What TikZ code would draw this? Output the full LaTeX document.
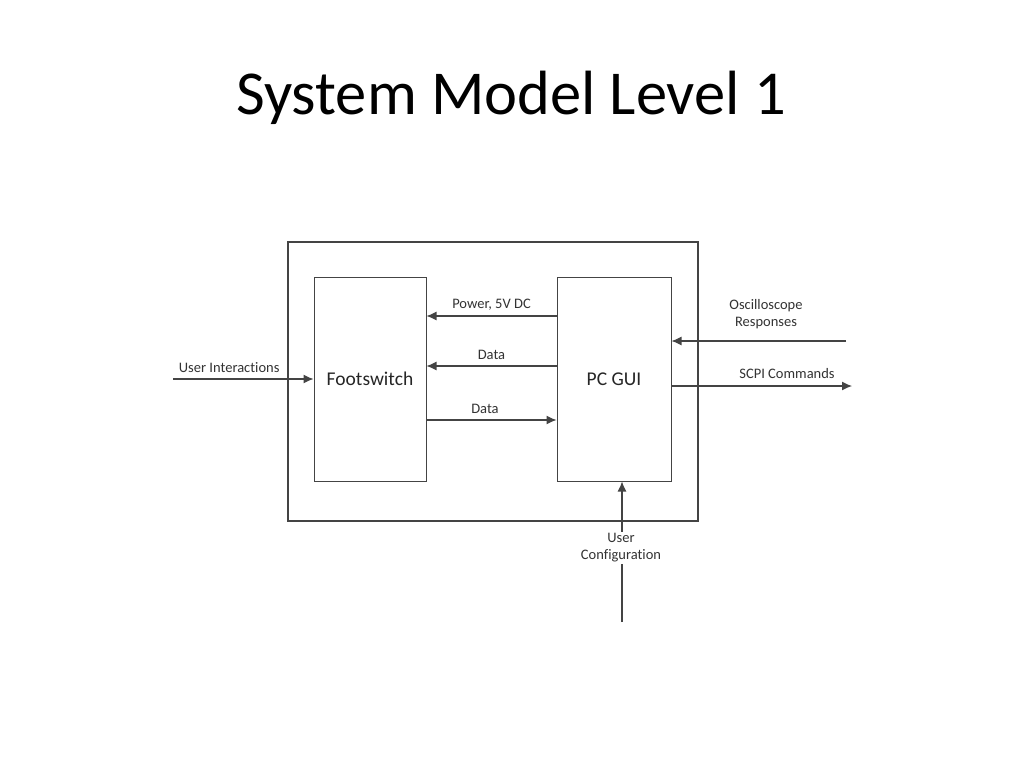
\documentclass[tikz,border=0pt]{standalone}
\usepackage{fontspec}
\setmainfont[RawFeature=-liga]{Carlito}
\usetikzlibrary{arrows.meta}
\definecolor{ln}{HTML}{444444}
\definecolor{tx}{HTML}{333333}
\begin{document}
\begin{tikzpicture}[x=1pt,y=-1pt,
  blk/.style={draw=ln,line width=1pt,minimum width=112pt,minimum height=204pt,inner sep=0pt,font=\fontsize{19.5}{22}\selectfont,text=black!85},
  lbl/.style={font=\fontsize{14.5}{17}\selectfont,text=tx,inner sep=1pt,align=center},
  arr/.style={draw=ln,line width=1.2pt,-{Latex[length=10pt,width=9pt]}}]
\useasboundingbox[fill=white] (0,0) rectangle (1024,768);
\node[font=\fontsize{62.5}{72}\selectfont] (title) at (511,98) {System Model Level 1};
\draw[ln,line width=2.5pt] (288,242) rectangle (698,521);
\node[blk] (fs) at (370,379) {Footswitch};
\node[blk,minimum width=114pt] (pc) at (614,379) {PC GUI};
\coordinate (ui) at (173,379);
\coordinate (osc) at (846,341);
\coordinate (scpi) at (852,386);
\coordinate (uc) at (622,622);
\draw[arr] (pc.west |- 0,316) -- (fs.east |- 0,316) node[lbl,midway,above=4pt] (lpow) {Power, 5V DC};
\draw[arr] (pc.west |- 0,366) -- (fs.east |- 0,366) node[lbl,midway,above=5pt] (ld1) {Data};
\draw[arr] (fs.east |- 0,420) -- (pc.west |- 0,420) node[lbl,pos=0.45,above=5pt] (ld2) {Data};
\draw[arr] (ui) -- (fs.west) node[lbl,pos=0.4,above=5pt] (lui) {User Interactions};
\draw[arr] (osc) -- (pc.east |- osc);
\node[lbl] (losc) at (766,314) {Oscilloscope\\Responses};
\draw[arr] (pc.east |- scpi) -- (scpi) node[lbl,pos=0.64,above=6pt] (lscpi) {SCPI Commands};
\draw[arr] (uc) -- (pc.south -| uc);
\node[lbl,fill=white,inner sep=2pt] (luc) at (621,548) {User\\Configuration};
\end{tikzpicture}
\end{document}
